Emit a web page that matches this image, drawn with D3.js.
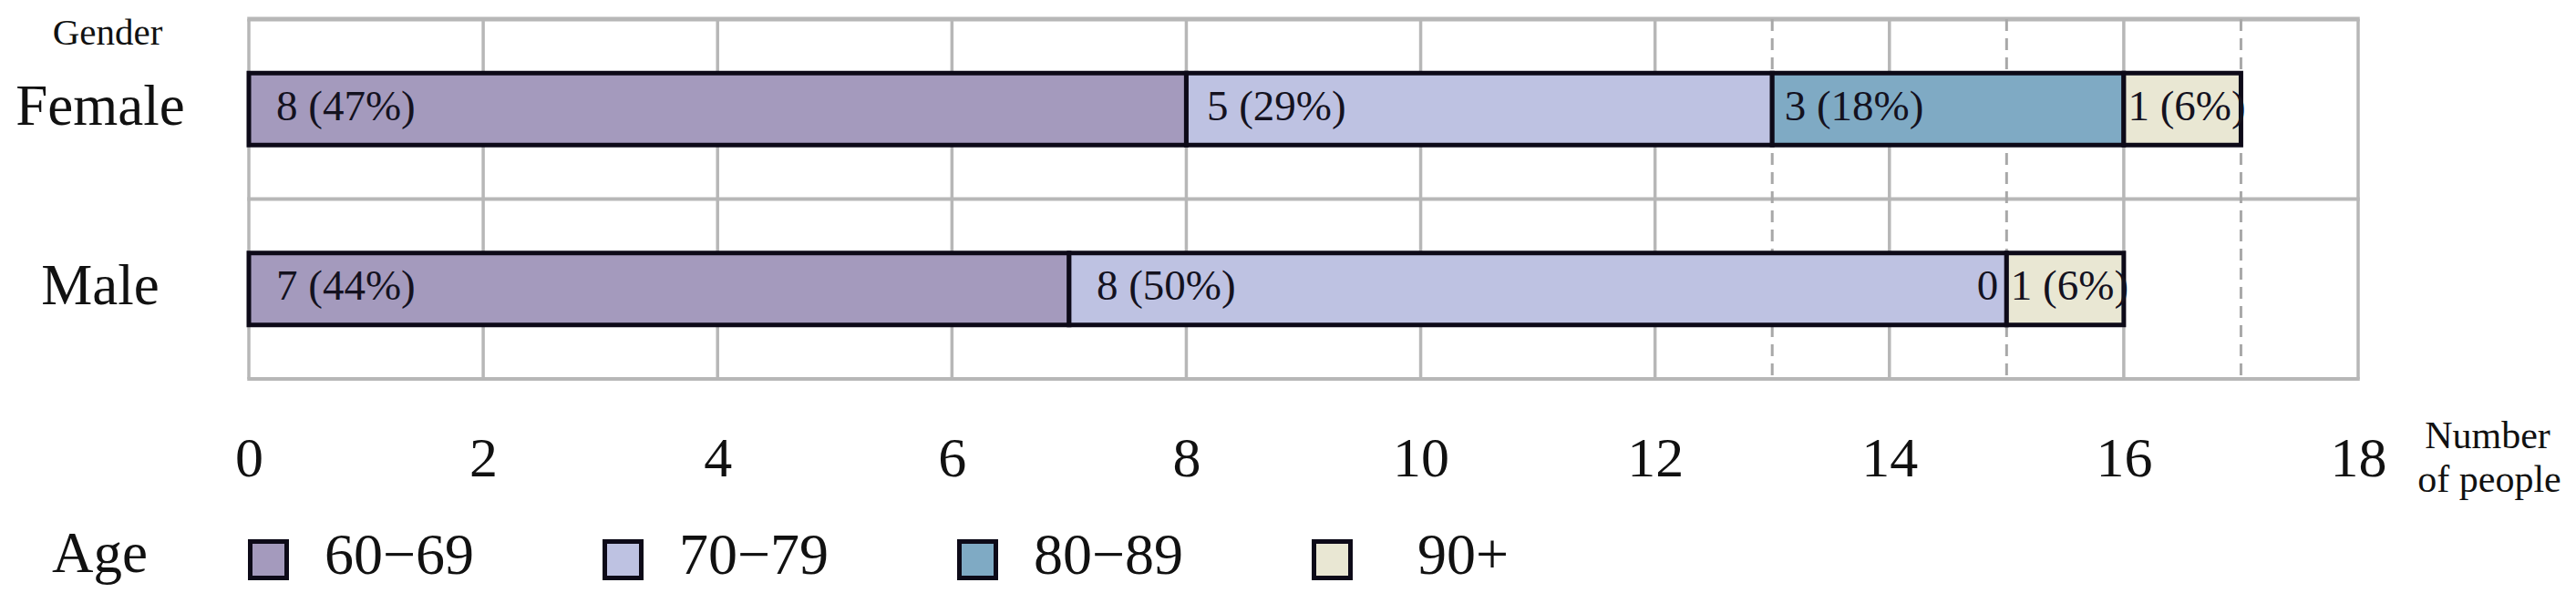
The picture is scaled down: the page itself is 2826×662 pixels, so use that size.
<!DOCTYPE html>
<html>
<head>
<meta charset="utf-8">
<script src="https://cdn.jsdelivr.net/npm/d3@7"></script>
<style>
  html, body { margin: 0; padding: 0; background: #ffffff; }
  svg { display: block; }
  text { font-family: 'Liberation Serif', 'Times New Roman', serif; fill: #111111; }
</style>
</head>
<body>
<svg id="chart" width="2826" height="662"></svg>
<script>
// ---- data ----
const genders = ["Female", "Male"];
const ageGroups = ["60\u221269", "70\u221279", "80\u221289", "90+"];
const femaleCounts = [8, 5, 3, 1];
const maleCounts = [7, 8, 0, 1];
const xTicks = [0, 2, 4, 6, 8, 10, 12, 14, 16, 18];
const dashedRefs = [13, 15, 17];
const ageColors = ["#a49abd", "#bec2e2", "#7faac4", "#e9e7d3"];

// ---- layout ----
const W = 2826, H = 662;
const plotLeft = 273, plotRight = 2587, plotTop = 21, plotBottom = 416;
const svg = d3.select("#chart");

const x = d3.scaleLinear().domain([0, 18]).range([plotLeft, plotRight]);
const y = d3.scaleBand().domain(genders).range([plotTop, plotBottom]);
const color = d3.scaleOrdinal().domain(ageGroups).range(ageColors);
const barH = y.bandwidth() * 0.4;

const countsByGender = { "Female": femaleCounts, "Male": maleCounts };
const rows = genders.map(g => {
  const vals = countsByGender[g];
  const total = d3.sum(vals);
  let cum = 0;
  return vals.map((v, i) => {
    const seg = { gender: g, age: ageGroups[i], value: v, x0: cum, x1: cum + v, total };
    cum += v;
    return seg;
  });
});
const segments = rows.flat();

// ---- grid ----
const grid = svg.append("g");
grid.selectAll("line.v").data(xTicks).enter().append("line")
  .attr("x1", d => x(d)).attr("x2", d => x(d))
  .attr("y1", plotTop).attr("y2", plotBottom)
  .attr("stroke", "#b7b7b7").attr("stroke-width", 3.5);
const hLines = [plotTop, y("Male"), plotBottom];
grid.selectAll("line.h").data(hLines).enter().append("line")
  .attr("x1", plotLeft - 1.75).attr("x2", plotRight + 1.75)
  .attr("y1", d => d).attr("y2", d => d)
  .attr("stroke", "#b7b7b7").attr("stroke-width", (d, i) => i === 0 ? 5 : 4);
grid.selectAll("line.d").data(dashedRefs).enter().append("line")
  .attr("x1", d => x(d)).attr("x2", d => x(d))
  .attr("y1", plotTop).attr("y2", plotBottom)
  .attr("stroke", "#a8a8a8").attr("stroke-width", 3)
  .attr("stroke-dasharray", "13,8");

// ---- bars ----
const barsG = svg.append("g");
barsG.selectAll("rect").data(segments.filter(d => d.value > 0)).enter().append("rect")
  .attr("x", d => x(d.x0))
  .attr("width", d => x(d.x1) - x(d.x0))
  .attr("y", d => y(d.gender) + (y.bandwidth() - barH) / 2)
  .attr("height", barH)
  .attr("fill", d => color(d.age))
  .attr("stroke", "#0d0a18").attr("stroke-width", 5);

// ---- bar labels ----
barsG.selectAll("text").data(segments).enter().append("text")
  .attr("x", d => {
    if (d.value === 0) return x(d.x0) - 9;
    const w = x(d.x1) - x(d.x0);
    return x(d.x0) + Math.min(30, w * 0.035);
  })
  .attr("y", d => y(d.gender) + y.bandwidth() / 2 + 12)
  .attr("text-anchor", d => d.value === 0 ? "end" : "start")
  .style("font-size", "47px")
  .style("fill", "#14121f")
  .text(d => d.value === 0 ? "0" : `${d.value} (${Math.round(d.value / d.total * 100)}%)`);

// ---- y category labels ----
svg.append("g").selectAll("text").data(genders).enter().append("text")
  .attr("x", 110)
  .attr("y", d => y(d) + y.bandwidth() / 2 + 17)
  .attr("text-anchor", "middle")
  .style("font-size", "63px")
  .text(d => d);
svg.append("text").attr("x", 118).attr("y", 49)
  .attr("text-anchor", "middle").style("font-size", "41px").text("Gender");

// ---- x axis ----
const axis = d3.axisBottom(x).tickValues(xTicks).tickSize(0).tickFormat(d3.format("d"));
const axG = svg.append("g").attr("transform", "translate(0,523)").call(axis);
axG.select(".domain").remove();
axG.selectAll("text").attr("y", 0).attr("dy", 0)
  .style("font-size", "62px").style("font-family", "'Liberation Serif', 'Times New Roman', serif")
  .attr("fill", "#111111");
const xt = svg.append("text").attr("x", 2729).attr("y", 492)
  .attr("text-anchor", "middle").style("font-size", "42px");
xt.append("tspan").attr("x", 2729).text("Number");
xt.append("tspan").attr("x", 2731).attr("dy", 48).text("of people");

// ---- legend ----
svg.append("text").attr("x", 57).attr("y", 628).style("font-size", "63px").text("Age");
const lx = d3.scaleBand().domain(ageGroups).range([272, 272 + 389 * 4]);
const leg = svg.append("g").selectAll("g").data(ageGroups).enter().append("g")
  .attr("transform", d => `translate(${lx(d)},0)`);
leg.append("rect").attr("x", 2.5).attr("y", 594.5).attr("width", 40).attr("height", 40)
  .attr("fill", d => color(d)).attr("stroke", "#0d0a18").attr("stroke-width", 5);
leg.append("text").attr("x", 166).attr("y", 630).attr("text-anchor", "middle")
  .style("font-size", "64px").text(d => d);
</script>
</body>
</html>
